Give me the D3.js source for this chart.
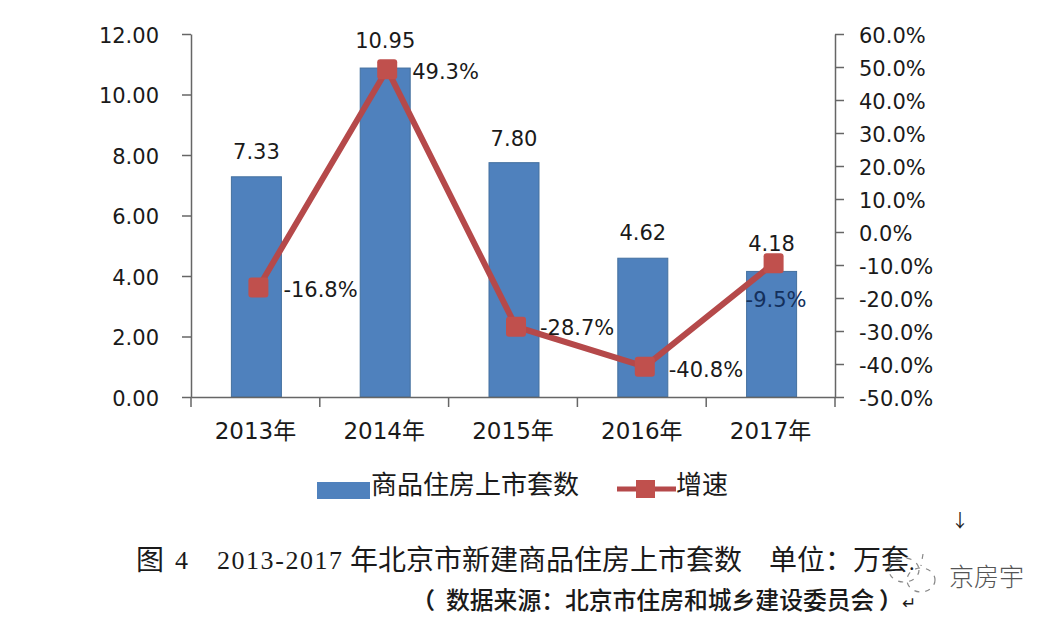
<!DOCTYPE html>
<html>
<head>
<meta charset="utf-8">
<script src="https://cdn.jsdelivr.net/npm/d3@7/dist/d3.min.js"></script>
<style>
    html, body { margin: 0; padding: 0; background: #fff; }
    svg { display: block; }
    text { fill: #1a1a1a; }
    .num { font-family: "DejaVu Sans", sans-serif; font-size: 21px; }
    .cjk { font-family: "Noto Sans CJK SC", sans-serif; }
</style>
</head>
<body>
<svg id="chart" width="1058" height="624"></svg>
<script>
"use strict";

const years = ["2013年", "2014年", "2015年", "2016年", "2017年"];
const units = [7.33, 10.95, 7.80, 4.62, 4.18];
const growth = [-16.8, 49.3, -28.7, -40.8, -9.5];
const leftTicks = [0, 2, 4, 6, 8, 10, 12];
const rightTicks = [-50, -40, -30, -20, -10, 0, 10, 20, 30, 40, 50, 60];
const unitsName = "商品住房上市套数";
const growthName = "增速";
const captionYears = "2013-2017";

const svg = d3.select("#chart");
const axisColor = "#666";
const barColor = "#4f81bd";
const lineColor = "#b5494a";
const markColor = "#c0504d";

const x = d3.scaleBand().domain(years).range([191, 835]);
const yLeft = d3.scaleLinear().domain([0, 12]).range([397, 34]);
const yRight = d3.scaleLinear().domain([-50, 60]).range([397, 34]);
// bars sit a touch lower than the printed ticks in the source picture
const yBars = d3.scaleLinear().domain([0, 12]).range([397, 36.5]);
const barWidth = 50;
const mid = d => x(d) + x.bandwidth() / 2;

// bars
svg.append("g").selectAll("rect")
    .data(years)
    .join("rect")
    .attr("x", d => mid(d) - barWidth / 2 + 1)
    .attr("y", (d, i) => yBars(units[i]))
    .attr("width", barWidth)
    .attr("height", (d, i) => yBars(0) - yBars(units[i]))
    .attr("fill", barColor)
    .attr("stroke", "#44709f")
    .attr("stroke-width", 1);

// axes
function styleAxis(g) {
    g.selectAll("path, line").attr("stroke", axisColor).attr("stroke-width", 1.5);
    g.selectAll("text").attr("class", "num").attr("fill", "#1a1a1a");
}

const leftAxis = svg.append("g")
    .attr("transform", "translate(191,0)")
    .call(d3.axisLeft(yLeft).tickValues(leftTicks).tickFormat(d3.format(".2f")).tickSize(9).tickSizeOuter(0).tickPadding(23))
    .call(styleAxis);
leftAxis.selectAll("text").attr("dy", "0.4em");

const rightAxis = svg.append("g")
    .attr("transform", "translate(835,0)")
    .call(d3.axisRight(yRight).tickValues(rightTicks).tickFormat(d => d.toFixed(1) + "%").tickSize(9).tickSizeOuter(0).tickPadding(15))
    .call(styleAxis);
rightAxis.selectAll("text").attr("dy", "0.4em");

const xAxis = svg.append("g").attr("transform", "translate(0,397)")
    .call(d3.axisBottom(x).tickSize(0).tickPadding(26))
    .call(styleAxis);
xAxis.selectAll("text")
    .style("font-family", '"DejaVu Sans", "Noto Sans CJK SC", sans-serif')
    .style("font-size", "23px");
xAxis.selectAll(".edge")
    .data([...years.map(d => x(d)), x.range()[1]])
    .join("line")
    .attr("class", "edge")
    .attr("x1", d => d).attr("x2", d => d)
    .attr("y1", 0).attr("y2", 10)
    .attr("stroke", axisColor).attr("stroke-width", 1.5);

// growth line
const cx = d => mid(d) + 3;
const line = d3.line()
    .x(d => cx(d))
    .y((d, i) => yRight(growth[i]));

svg.append("path")
    .datum(years)
    .attr("d", line)
    .attr("fill", "none")
    .attr("stroke", lineColor)
    .attr("stroke-width", 6);

svg.append("g").selectAll("rect")
    .data(years)
    .join("rect")
    .attr("x", d => cx(d) - 10)
    .attr("y", (d, i) => yRight(growth[i]) - 10)
    .attr("width", 20)
    .attr("height", 20)
    .attr("rx", 3)
    .attr("fill", markColor);

// data labels
const unitDy = [-18, -20, -17, -18, -20];
svg.append("g").selectAll("text")
    .data(years)
    .join("text")
    .attr("class", "num")
    .attr("text-anchor", "middle")
    .attr("x", d => mid(d) + 1)
    .attr("y", (d, i) => yBars(units[i]) + unitDy[i])
    .text((d, i) => units[i].toFixed(2));

const growthDx = [25, 25, 24, 24, -28];
const growthDy = [10, 10, 8, 10, 44];
svg.append("g").selectAll("text")
    .data(years)
    .join("text")
    .attr("class", "num")
    .attr("x", (d, i) => cx(d) + growthDx[i])
    .attr("y", (d, i) => yRight(growth[i]) + growthDy[i])
    .style("fill", (d, i) => i === 4 ? "#14305c" : null)
    .text((d, i) => growth[i].toFixed(1) + "%");

// legend
svg.append("rect").attr("x", 317).attr("y", 482).attr("width", 53).attr("height", 17).attr("fill", barColor);
svg.append("text").attr("class", "cjk").attr("x", 371).attr("y", 494).style("font-size", "26px").text(unitsName);
svg.append("line").attr("x1", 617).attr("x2", 676).attr("y1", 489).attr("y2", 489).attr("stroke", lineColor).attr("stroke-width", 5);
svg.append("rect").attr("x", 636).attr("y", 480).attr("width", 19).attr("height", 18).attr("fill", markColor);
svg.append("text").attr("class", "cjk").attr("x", 676).attr("y", 494).style("font-size", "26px").text(growthName);

// caption
function caption(str, xPos, yPos, size) {
    return svg.append("text").attr("class", "cjk").attr("x", xPos).attr("y", yPos).style("font-size", size + "px").text(str);
}
caption("图", 136, 570, 28);
caption("4", 175, 569, 26).style("font-family", '"Liberation Serif", serif');
caption(captionYears, 217, 569, 26).style("font-family", '"Liberation Serif", serif').attr("textLength", 125);
caption("年北京市新建商品住房上市套数", 350, 570, 28);
caption("单位：万套", 769, 570, 28);
caption(".", 909, 570, 20);
caption("↓", 960, 527, 18).attr("text-anchor", "middle");
caption("数据来源：北京市住房和城乡建设委员会", 446, 609, 23.8).style("font-weight", 500);
caption("（", 412, 609, 23).style("font-weight", 700);
caption("）", 879, 609, 23).style("font-weight", 700);
caption("↵", 902, 609, 17);

// watermark
caption("京房宇", 949, 586, 25).style("fill", "#555").style("font-weight", 300);
const wm = svg.append("g").attr("fill", "none").attr("stroke", "#888").attr("stroke-width", 1.2).attr("stroke-dasharray", "5 6");
wm.append("ellipse").attr("cx", 904).attr("cy", 570).attr("rx", 15).attr("ry", 12);
wm.append("ellipse").attr("cx", 921).attr("cy", 580).attr("rx", 14).attr("ry", 12);
wm.append("line").attr("x1", 923).attr("x2", 921).attr("y1", 554).attr("y2", 566);
</script>
</body>
</html>
